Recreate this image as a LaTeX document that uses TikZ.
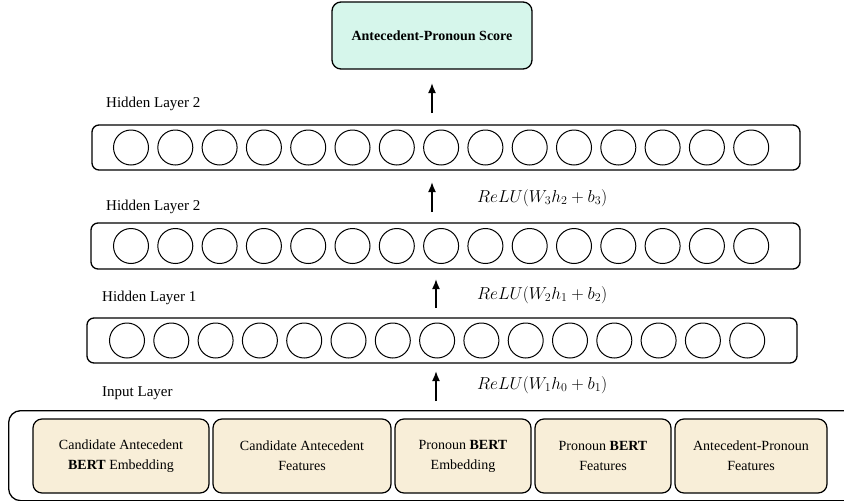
\documentclass[tikz,border=0pt]{standalone}
\usepackage{fontspec}
\setmainfont{Liberation Serif}
\usetikzlibrary{arrows.meta}
\definecolor{mint}{HTML}{D6F6EB}
\definecolor{beige}{HTML}{F8EED8}
\tikzset{
  layerbox/.style={draw, line width=1.3pt, rounded corners=7pt},
  neuron/.style={draw, circle, line width=1pt, minimum size=35pt, inner sep=0pt},
  inbox/.style={draw, line width=1.2pt, rounded corners=9pt, fill=beige, align=center,
     font=\fontsize{14}{20}\selectfont},
  lbl/.style={anchor=west, font=\fontsize{15}{18}\selectfont, inner sep=0pt},
  mlbl/.style={anchor=west, font=\fontsize{18.8}{21}\selectfont, inner sep=0pt},
  uparrow/.style={line width=1.7pt, -{Latex[length=10pt,width=8pt]}}
}
\begin{document}
\begin{tikzpicture}[x=1pt,y=-1pt]
\useasboundingbox (0,0) rectangle (844,501);
\clip (0,0) rectangle (844,501);
% score
\node[draw, line width=1.3pt, rounded corners=9pt, fill=mint, minimum width=200pt, minimum height=67pt,
  font=\bfseries\fontsize{14}{17}\selectfont] (score) at (432,35.5) {Antecedent-Pronoun Score};
% layer 3 (top)
\node[layerbox, minimum width=708pt, minimum height=45pt] (L3) at (446,147.5) {};
\foreach \i in {0,...,14} \node[neuron] (a\i) at ({131+44.3*\i},147.5) {};
% layer 2
\node[layerbox, minimum width=709pt, minimum height=46pt] (L2) at (445.5,246) {};
\foreach \i in {0,...,14} \node[neuron] (b\i) at ({131+44.3*\i},246) {};
% layer 1
\node[layerbox, minimum width=710pt, minimum height=45pt] (L1) at (442,340.5) {};
\foreach \i in {0,...,14} \node[neuron] (c\i) at ({127+44.3*\i},340.5) {};
% input
\node[draw, line width=1.3pt, rounded corners=12pt, minimum width=860pt, minimum height=90pt, anchor=north west] (IN) at (8,410) {};
\node[inbox, minimum width=176pt, minimum height=74pt] (i1) at (121,456) {Candidate Antecedent\\\textbf{BERT} Embedding};
\node[inbox, minimum width=178pt, minimum height=74pt] (i2) at (302,456) {Candidate Antecedent\\Features};
\node[inbox, minimum width=136pt, minimum height=74pt] (i3) at (463,456) {Pronoun \textbf{BERT}\\Embedding};
\node[inbox, minimum width=136pt, minimum height=74pt] (i4) at (603,456) {Pronoun \textbf{BERT}\\Features};
\node[inbox, minimum width=152pt, minimum height=74pt] (i5) at (751,456) {Antecedent-Pronoun\\Features};
% labels
\node[lbl] (t3) at (106,104) {Hidden Layer 2};
\node[lbl] (t2) at (106,207) {Hidden Layer 2};
\node[lbl] (t1) at (102,298) {Hidden Layer 1};
\node[lbl] (t0) at (102,393) {Input Layer};
\node[mlbl] (m3) at (477,198) {$ReLU(W_3h_2+b_3)$};
\node[mlbl] (m2) at (477,295) {$ReLU(W_2h_1+b_2)$};
\node[mlbl] (m1) at (477,385) {$ReLU(W_1h_0+b_1)$};
% arrows
\coordinate (s4) at (432,113); \coordinate (e4) at (432,83);
\coordinate (s3) at (432,212); \coordinate (e3) at (432,182);
\coordinate (s2) at (436,308); \coordinate (e2) at (436,279);
\coordinate (s1) at (436,401); \coordinate (e1) at (436,371);
\draw[uparrow] (s4) -- (e4);
\draw[uparrow] (s3) -- (e3);
\draw[uparrow] (s2) -- (e2);
\draw[uparrow] (s1) -- (e1);
\end{tikzpicture}
\end{document}
